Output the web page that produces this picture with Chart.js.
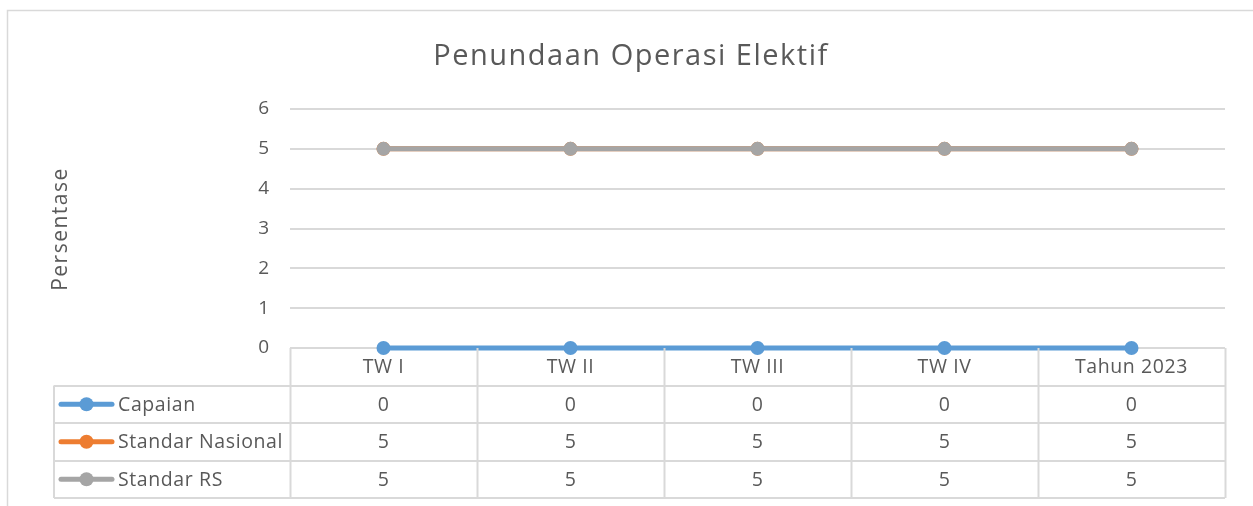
<!DOCTYPE html>
<html>
<head>
<meta charset="utf-8">
<script src="https://cdn.jsdelivr.net/npm/chart.js@4"></script>
<style>
  html, body { margin: 0; padding: 0; background: #fff; }
  #wrap { width: 1253px; height: 506px; position: relative; }
</style>
</head>
<body>
<div id="wrap"><canvas id="chart"></canvas></div>
<script>
// data
const categories = ['TW I', 'TW II', 'TW III', 'TW IV', 'Tahun 2023'];
const capaian = [0, 0, 0, 0, 0];
const standarNasional = [5, 5, 5, 5, 5];
const standarRS = [5, 5, 5, 5, 5];
const yTicks = [0, 1, 2, 3, 4, 5, 6];

const titleText = 'Penundaan Operasi Elektif';
const yTitle = 'Persentase';

const textColor = '#595959';
const gridColor = '#d9d9d9';
const fontFamily = "'Open Sans', 'Noto Sans', sans-serif";

// order: lower draws on top (Standar RS covers Standar Nasional)
const series = [
    { label: 'Capaian', data: capaian, color: '#5b9bd5', order: 2 },
    { label: 'Standar Nasional', data: standarNasional, color: '#ed7d31', order: 1 },
    { label: 'Standar RS', data: standarRS, color: '#a5a5a5', order: 0 }
];

// frame, title, y title and the data table under the plot
const tablePlugin = {
    id: 'excelTable',
    afterDraw(chart) {
        const ctx = chart.ctx;
        const area = chart.chartArea;
        const x = chart.scales.x;
        const n = categories.length;
        const colW = (area.right - area.left) / n;
        const rowH = 37.5;
        const tableLeft = 54;

        ctx.save();
        // outer frame
        ctx.strokeStyle = gridColor;
        ctx.lineWidth = 1.5;
        ctx.beginPath();
        ctx.moveTo(7.5, 506);
        ctx.lineTo(7.5, 10.5);
        ctx.lineTo(1253, 10.5);
        ctx.stroke();

        // title
        ctx.fillStyle = textColor;
        ctx.font = '29px ' + fontFamily;
        ctx.letterSpacing = '1.5px';
        ctx.textAlign = 'center';
        ctx.textBaseline = 'middle';
        ctx.fillText(titleText, 631, 57);

        // y axis title
        ctx.save();
        ctx.translate(61, 229);
        ctx.rotate(-Math.PI / 2);
        ctx.font = '21px ' + fontFamily;
        ctx.letterSpacing = '1.5px';
        ctx.fillText(yTitle, 0, 0);
        ctx.restore();

        // table grid
        ctx.lineWidth = 2;
        ctx.strokeStyle = gridColor;
        ctx.beginPath();
        for (let i = 0; i <= n; i++) {
            const lx = Math.round(area.left + i * colW) + 0.5;
            ctx.moveTo(lx, area.bottom);
            ctx.lineTo(lx, area.bottom + rowH * 4);
        }
        for (let r = 1; r <= 4; r++) {
            const ly = Math.round(area.bottom + r * rowH);
            ctx.moveTo(tableLeft, ly);
            ctx.lineTo(area.right, ly);
        }
        ctx.moveTo(tableLeft, area.bottom + rowH);
        ctx.lineTo(tableLeft, area.bottom + rowH * 4);
        ctx.stroke();

        // header labels
        ctx.font = '19.5px ' + fontFamily;
        ctx.letterSpacing = '0.6px';
        ctx.fillStyle = textColor;
        ctx.textAlign = 'center';
        categories.forEach((c, i) => {
            ctx.fillText(c, x.getPixelForValue(i), area.bottom + rowH / 2 + 1);
        });

        // rows
        series.forEach((s, r) => {
            const cy = area.bottom + rowH * (r + 1.5);
            // legend key
            ctx.strokeStyle = s.color;
            ctx.lineWidth = 5;
            ctx.lineCap = 'round';
            ctx.beginPath();
            ctx.moveTo(61, cy);
            ctx.lineTo(112, cy);
            ctx.stroke();
            ctx.fillStyle = s.color;
            ctx.beginPath();
            ctx.arc(86.5, cy, 7, 0, Math.PI * 2);
            ctx.fill();
            // label
            ctx.fillStyle = textColor;
            ctx.textAlign = 'left';
            ctx.fillText(s.label, 118, cy + 1);
            // values
            ctx.textAlign = 'center';
            s.data.forEach((v, i) => {
                ctx.fillText(String(v), x.getPixelForValue(i), cy + 1);
            });
        });
        ctx.restore();
    }
};

new Chart(document.getElementById('chart'), {
    type: 'line',
    data: {
        labels: categories,
        datasets: series.map(s => ({
            label: s.label,
            data: s.data,
            order: s.order,
            borderColor: s.color,
            backgroundColor: s.color,
            pointBackgroundColor: s.color,
            pointBorderColor: s.color,
            borderWidth: 5,
            pointRadius: 7,
            pointBorderWidth: 0,
            tension: 0,
            clip: false
        }))
    },
    options: {
        responsive: true,
        maintainAspectRatio: false,
        animation: false,
        layout: { padding: { left: 0, top: 109, right: 28, bottom: 158 } },
        plugins: {
            legend: { display: false },
            title: { display: false },
            tooltip: { enabled: false }
        },
        scales: {
            x: {
                type: 'category',
                offset: true,
                display: false
            },
            y: {
                min: yTicks[0],
                max: yTicks[yTicks.length - 1],
                border: { display: false },
                grid: { color: gridColor, lineWidth: 2, drawTicks: false },
                ticks: {
                    stepSize: 1,
                    padding: 21,
                    color: textColor,
                    font: { size: 19, family: fontFamily }
                },
                afterFit(scale) { scale.width = 290; }
            }
        }
    },
    plugins: [tablePlugin]
});
</script>
</body>
</html>
